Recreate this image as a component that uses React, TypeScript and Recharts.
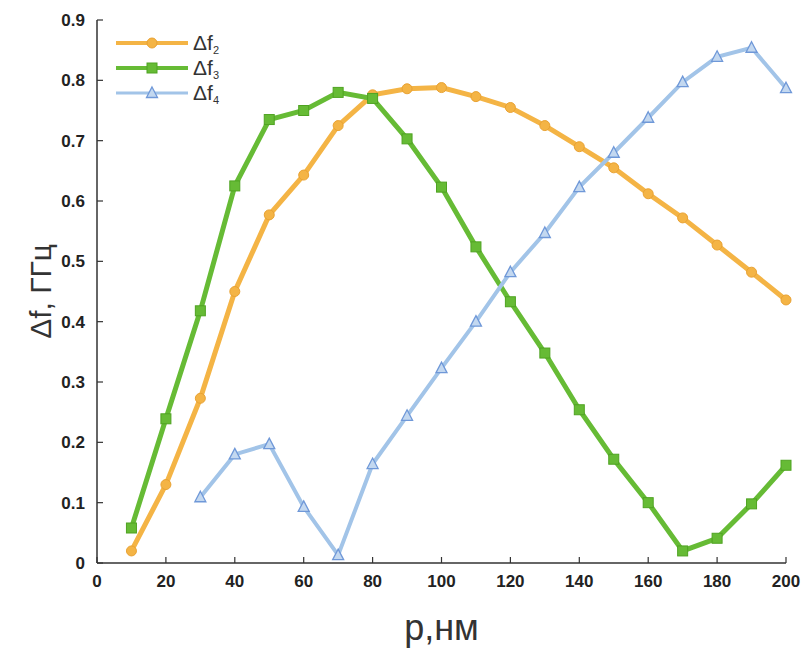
import { LineChart, Line, XAxis, YAxis, Legend } from "recharts";

// p, nm
const P_NM = [10, 20, 30, 40, 50, 60, 70, 80, 90, 100, 110, 120, 130, 140, 150, 160, 170, 180, 190, 200];
const DF2 = [0.02, 0.13, 0.273, 0.45, 0.577, 0.643, 0.725, 0.776, 0.786, 0.788, 0.773, 0.755, 0.725, 0.69, 0.655, 0.612, 0.572, 0.527, 0.482, 0.436];
const DF3 = [0.058, 0.239, 0.418, 0.625, 0.735, 0.75, 0.78, 0.77, 0.703, 0.623, 0.524, 0.433, 0.348, 0.254, 0.172, 0.1, 0.02, 0.041, 0.098, 0.162];
const DF4 = [null, null, 0.109, 0.18, 0.197, 0.093, 0.013, 0.164, 0.244, 0.323, 0.4, 0.482, 0.547, 0.623, 0.68, 0.738, 0.797, 0.839, 0.854, 0.787];
const X_TICKS = [0, 20, 40, 60, 80, 100, 120, 140, 160, 180, 200];
const Y_TICKS = [0, 0.1, 0.2, 0.3, 0.4, 0.5, 0.6, 0.7, 0.8, 0.9];

const ORANGE = "#f4b445";
const ORANGE_EDGE = "#e9a233";
const GREEN = "#66bb35";
const GREEN_EDGE = "#4fa322";
const BLUE = "#a2c4e8";
const BLUE_EDGE = "#6f98d8";
const AXIS = "#333";
const FONT = "'Liberation Sans', Arial, sans-serif";

const data = P_NM.map((p, i) => ({ p, df2: DF2[i], df3: DF3[i], df4: DF4[i] }));

const CircleDot = (props: any) => {
  const { cx, cy, key } = props;
  if (cx == null || cy == null) return null;
  return <circle key={key} cx={cx} cy={cy} r={5} fill={ORANGE} stroke={ORANGE_EDGE} strokeWidth={1} />;
};

const SquareDot = (props: any) => {
  const { cx, cy, key } = props;
  if (cx == null || cy == null) return null;
  return <rect key={key} x={cx - 5} y={cy - 5} width={10} height={10} fill={GREEN} stroke={GREEN_EDGE} strokeWidth={1} />;
};

const TriangleDot = (props: any) => {
  const { cx, cy, key, value } = props;
  if (cx == null || cy == null || value == null) return null;
  return (
    <path
      key={key}
      d={`M${cx},${cy - 6} L${cx + 5.5},${cy + 4.5} L${cx - 5.5},${cy + 4.5} Z`}
      fill="#c3d8f0"
      stroke={BLUE_EDGE}
      strokeWidth={1.3}
    />
  );
};

const legendItems = [
  { sub: "2", color: ORANGE, marker: "circle" },
  { sub: "3", color: GREEN, marker: "square" },
  { sub: "4", color: BLUE, marker: "triangle" },
];

function LegendBox() {
  return (
    <div style={{ fontFamily: FONT, color: "#333" }}>
      {legendItems.map((it) => (
        <div key={it.sub} style={{ display: "flex", alignItems: "center", height: 25 }}>
          <svg width={72} height={16} style={{ display: "block" }}>
            <line x1={0} y1={8} x2={72} y2={8} stroke={it.color} strokeWidth={it.marker === "triangle" ? 3 : 4} />
            {it.marker === "circle" && <circle cx={36} cy={8} r={5} fill={ORANGE} stroke={ORANGE_EDGE} />}
            {it.marker === "square" && <rect x={31} y={3} width={10} height={10} fill={GREEN} stroke={GREEN_EDGE} />}
            {it.marker === "triangle" && (
              <path d="M36,2 L41.5,12.5 L30.5,12.5 Z" fill="#c3d8f0" stroke={BLUE_EDGE} strokeWidth={1.3} />
            )}
          </svg>
          <span style={{ fontSize: 21, marginLeft: 5, lineHeight: "22px", height: 22, display: "inline-block" }}>
            Δf
            <span style={{ fontSize: 11, position: "relative", top: 4 }}>{it.sub}</span>
          </span>
        </div>
      ))}
    </div>
  );
}

export default function App() {
  return (
    <div style={{ position: "absolute", left: 0, top: 0, width: 806, height: 651, background: "#fff" }}>
      <LineChart width={806} height={651} data={data} margin={{ top: 20, right: 20, bottom: 0, left: 0 }}>
        <XAxis
          dataKey="p"
          type="number"
          domain={[0, 200]}
          ticks={X_TICKS}
          height={88}
          axisLine={{ stroke: AXIS, strokeWidth: 1.5 }}
          tickLine={{ stroke: AXIS, strokeWidth: 1.2 }}
          tickSize={-6}
          tickMargin={18}
          tick={{ fill: "#222", fontSize: 17, fontWeight: 700, fontFamily: FONT }}
          label={{ value: "p,нм", position: "insideBottom", offset: 11, style: { fontSize: 36, fill: "#333", fontFamily: FONT } }}
        />
        <YAxis
          type="number"
          domain={[0, 0.9]}
          ticks={Y_TICKS}
          width={97}
          axisLine={{ stroke: AXIS, strokeWidth: 1.5 }}
          tickLine={{ stroke: AXIS, strokeWidth: 1.2 }}
          tickSize={-6}
          tickMargin={18}
          tickFormatter={(v: number) => (v === 0 ? "0" : v.toFixed(1))}
          tick={{ fill: "#222", fontSize: 17, fontWeight: 700, fontFamily: FONT }}
          label={{
            value: "Δf, ГГц",
            angle: -90,
            position: "insideLeft",
            offset: 40,
            style: { fontSize: 30, fill: "#333", fontFamily: FONT, textAnchor: "middle" },
          }}
        />
        <Legend
          layout="vertical"
          verticalAlign="middle"
          align="center"
          content={() => <LegendBox />}
          wrapperStyle={{ left: 116, top: 30, width: 140 }}
        />
        <Line dataKey="df2" stroke={ORANGE} strokeWidth={5} dot={CircleDot} activeDot={false} isAnimationActive={false} />
        <Line dataKey="df3" stroke={GREEN} strokeWidth={5} dot={SquareDot} activeDot={false} isAnimationActive={false} />
        <Line dataKey="df4" stroke={BLUE} strokeWidth={4} dot={TriangleDot} activeDot={false} isAnimationActive={false} />
      </LineChart>
    </div>
  );
}
